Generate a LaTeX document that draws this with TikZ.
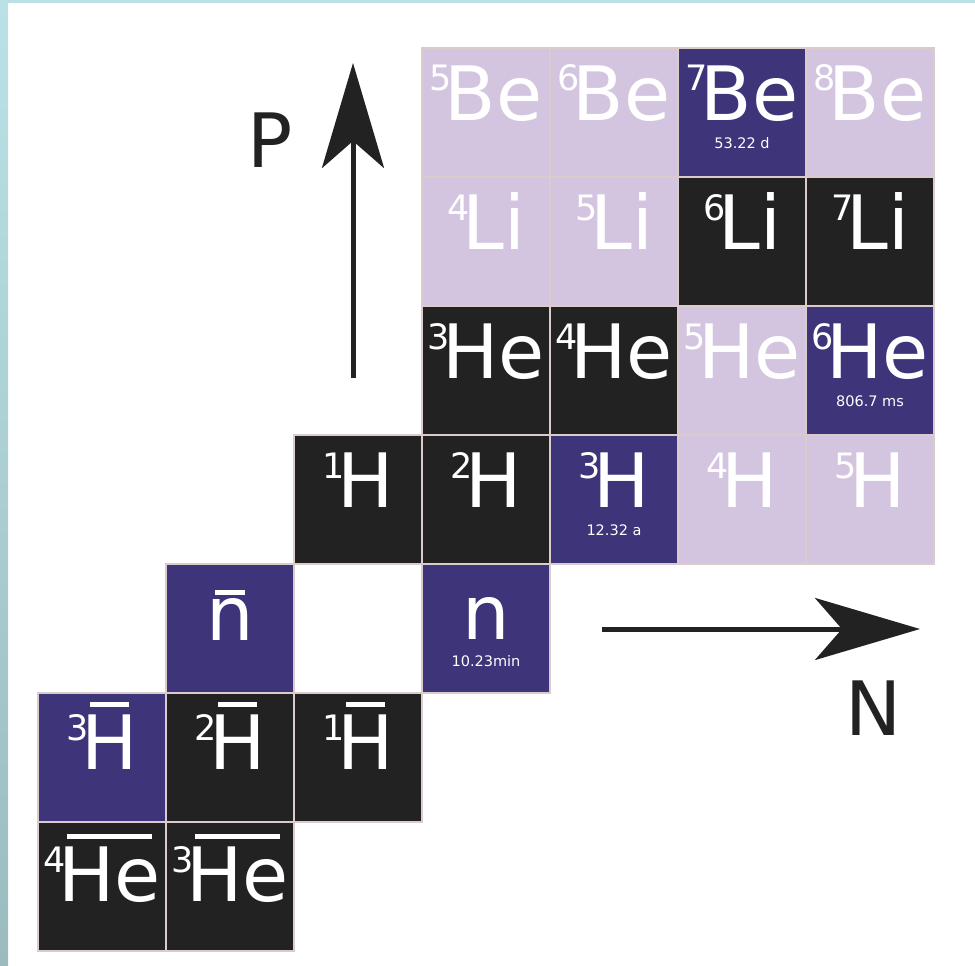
\documentclass[tikz,border=0pt]{standalone}
\usepackage{fontspec}
\setmainfont{DejaVu Sans}
\usetikzlibrary{arrows.meta}
\definecolor{lite}{HTML}{D3C5DF}
\definecolor{dark}{HTML}{222222}
\definecolor{purp}{HTML}{3D3479}
\definecolor{edge}{HTML}{DCCBCB}
\definecolor{bandA}{HTML}{BAE2E6}
\definecolor{bandB}{HTML}{9BBBBF}
\newcommand\msup[1]{\raisebox{29pt}{\fontsize{35}{35}\selectfont #1}\kern-7pt}
\newcommand\myobar[2]{\setbox0=\hbox{#2}\rlap{\kern9pt\rule[#1]{\dimexpr\wd0-18pt\relax}{5pt}}\box0}
\begin{document}
\begin{tikzpicture}[x=1pt,y=-1pt,
  cell/.style={rectangle, draw=edge, line width=2pt, minimum width=128pt, minimum height=129pt, inner sep=0pt, outer sep=0pt},
  sym/.style={text=white, inner sep=0pt, outer sep=0pt, anchor=base, font=\fontsize{75}{80}\selectfont},
  hl/.style={text=white, inner sep=0pt, anchor=base, font=\fontsize{14.5}{16}\selectfont},
  axis/.style={draw=dark, line width=5pt, -{Stealth[length=105pt,width=62pt,inset=27pt]}},
  axlabel/.style={text=dark, inner sep=0pt, font=\fontsize{75}{80}\selectfont}]
\useasboundingbox (0,0) rectangle (975,966);
\fill[white] (0,0) rectangle (975,966);
\fill[bandA] (0,0) rectangle (975,3);
\shade[top color=bandA, bottom color=bandB] (0,0) rectangle (8,966);
% row 0: Be
\node[cell, fill=lite] (cBe5) at ({102+128*3},{112.5+129*0}) {};
\node[cell, fill=lite] (cBe6) at ({102+128*4},{112.5+129*0}) {};
\node[cell, fill=purp] (cBe7) at ({102+128*5},{112.5+129*0}) {};
\node[cell, fill=lite] (cBe8) at ({102+128*6},{112.5+129*0}) {};
% row 1: Li
\node[cell, fill=lite] (cLi4) at ({102+128*3},{112.5+129*1}) {};
\node[cell, fill=lite] (cLi5) at ({102+128*4},{112.5+129*1}) {};
\node[cell, fill=dark] (cLi6) at ({102+128*5},{112.5+129*1}) {};
\node[cell, fill=dark] (cLi7) at ({102+128*6},{112.5+129*1}) {};
% row 2: He
\node[cell, fill=dark] (cHe3) at ({102+128*3},{112.5+129*2}) {};
\node[cell, fill=dark] (cHe4) at ({102+128*4},{112.5+129*2}) {};
\node[cell, fill=lite] (cHe5) at ({102+128*5},{112.5+129*2}) {};
\node[cell, fill=purp] (cHe6) at ({102+128*6},{112.5+129*2}) {};
% row 3: H
\node[cell, fill=dark] (cH1) at ({102+128*2},{112.5+129*3}) {};
\node[cell, fill=dark] (cH2) at ({102+128*3},{112.5+129*3}) {};
\node[cell, fill=purp] (cH3) at ({102+128*4},{112.5+129*3}) {};
\node[cell, fill=lite] (cH4) at ({102+128*5},{112.5+129*3}) {};
\node[cell, fill=lite] (cH5) at ({102+128*6},{112.5+129*3}) {};
% row 4: neutrons
\node[cell, fill=purp] (cnb) at ({102+128*1},{112.5+129*4}) {};
\node[cell, fill=purp] (cn) at ({102+128*3},{112.5+129*4}) {};
% row 5: anti-H
\node[cell, fill=purp] (caH3) at ({102+128*0},{112.5+129*5}) {};
\node[cell, fill=dark] (caH2) at ({102+128*1},{112.5+129*5}) {};
\node[cell, fill=dark] (caH1) at ({102+128*2},{112.5+129*5}) {};
% row 6: anti-He
\node[cell, fill=dark] (caHe4) at ({102+128*0},{112.5+129*6}) {};
\node[cell, fill=dark] (caHe3) at ({102+128*1},{112.5+129*6}) {};
% symbols
\node[sym] (tBe5) at ([yshift=-72pt]cBe5.north) {\msup{5}Be};
\node[sym] (tBe6) at ([yshift=-72pt]cBe6.north) {\msup{6}Be};
\node[sym] (tBe7) at ([yshift=-72pt]cBe7.north) {\msup{7}Be};
\node[sym] (tBe8) at ([yshift=-72pt]cBe8.north) {\msup{8}Be};
\node[sym] (tLi4) at ([yshift=-72pt]cLi4.north) {\msup{4}Li};
\node[sym] (tLi5) at ([yshift=-72pt]cLi5.north) {\msup{5}Li};
\node[sym] (tLi6) at ([yshift=-72pt]cLi6.north) {\msup{6}Li};
\node[sym] (tLi7) at ([yshift=-72pt]cLi7.north) {\msup{7}Li};
\node[sym] (tHe3) at ([yshift=-72pt]cHe3.north) {\msup{3}He};
\node[sym] (tHe4) at ([yshift=-72pt]cHe4.north) {\msup{4}He};
\node[sym] (tHe5) at ([yshift=-72pt]cHe5.north) {\msup{5}He};
\node[sym] (tHe6) at ([yshift=-72pt]cHe6.north) {\msup{6}He};
\node[sym] (tH1) at ([yshift=-72pt]cH1.north) {\msup{1}H};
\node[sym] (tH2) at ([yshift=-72pt]cH2.north) {\msup{2}H};
\node[sym] (tH3) at ([yshift=-72pt]cH3.north) {\msup{3}H};
\node[sym] (tH4) at ([yshift=-72pt]cH4.north) {\msup{4}H};
\node[sym] (tH5) at ([yshift=-72pt]cH5.north) {\msup{5}H};
\node[sym] (tnb) at ([yshift=-76pt]cnb.north) {\myobar{45pt}{n}};
\node[sym] (tn) at ([yshift=-75pt]cn.north) {n};
\node[sym] (taH3) at ([yshift=-76pt]caH3.north) {\msup{3}\myobar{62pt}{H}};
\node[sym] (taH2) at ([yshift=-76pt]caH2.north) {\msup{2}\myobar{62pt}{H}};
\node[sym] (taH1) at ([yshift=-76pt]caH1.north) {\msup{1}\myobar{62pt}{H}};
\node[sym] (taHe4) at ([yshift=-79pt]caHe4.north) {\msup{4}\myobar{62pt}{He}};
\node[sym] (taHe3) at ([yshift=-79pt]caHe3.north) {\msup{3}\myobar{62pt}{He}};
% half-lives
\node[hl] (hBe7) at ([yshift=-100pt]cBe7.north) {53.22 d};
\node[hl] (hHe6) at ([yshift=-100pt]cHe6.north) {806.7 ms};
\node[hl] (hH3) at ([yshift=-100pt]cH3.north) {12.32 a};
\node[hl] (hn) at ([yshift=-102pt]cn.north) {10.23min};
% axes
\coordinate (pbot) at (353,378);
\coordinate (ptop) at (353,63);
\coordinate (nl) at (602,629);
\coordinate (nr) at (920,629);
\draw[axis] (pbot) -- (ptop);
\draw[axis] (nl) -- (nr);
\node[axlabel] (lP) at (270,140) {P};
\node[axlabel] (lN) at (874,708) {N};
\end{tikzpicture}
\end{document}
